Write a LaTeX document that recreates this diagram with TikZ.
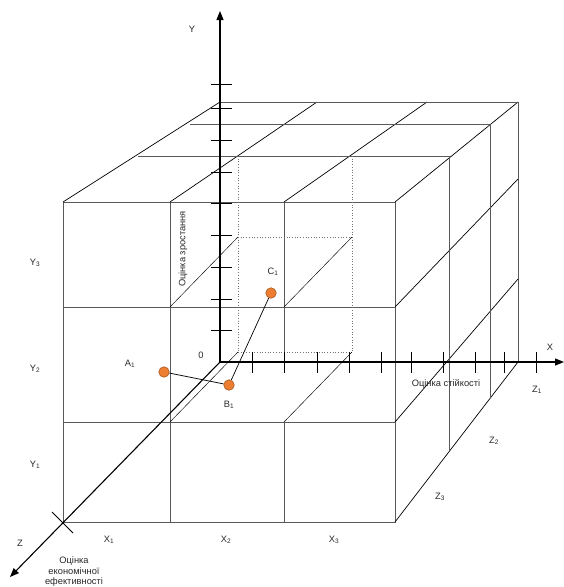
\documentclass[tikz,border=0pt]{standalone}
\usepackage{fontspec}
\setmainfont{Liberation Sans}
\usetikzlibrary{arrows.meta}
\definecolor{dotor}{RGB}{237,125,49}
\definecolor{labc}{RGB}{40,40,40}
\begin{document}
\begin{tikzpicture}[x=1pt,y=-1pt,
 box/.style={draw=black!65, line width=0.8pt},
 dia/.style={draw=black, line width=0.7pt},
 thinl/.style={draw=black, line width=0.45pt},
 dots/.style={draw=black!55, line width=0.7pt, dotted},
 axis/.style={draw=black, line width=1.1pt},
 tickl/.style={draw=black, line width=0.9pt},
 tip/.style={-{Triangle[length=9pt,width=7pt]}},
 lbl/.style={font=\fontsize{9.3}{10.5}\selectfont, text=labc, inner sep=0pt},
 ptn/.style={circle, fill=dotor, draw=dotor!70!black, line width=0.6pt, minimum size=10.5pt, inner sep=0pt},
]
\useasboundingbox (0,0) rectangle (564,587);

% ---------- front face ----------
\draw[box] (63,202) rectangle (395,522);
\draw[box] (63,307) -- (395,307);
\draw[box] (63,422) -- (395,422);
\draw[box] (170,202) -- (170,522);
\draw[box] (284,202) -- (284,373);
\draw[box] (284,422) -- (284,522);

% ---------- top face ----------
\draw[dia] (63,202) -- (220,102);
\draw[dia] (170,202) -- (317,102);
\draw[dia] (284,202) -- (427,102);
\draw[dia] (395,202) -- (518,102);
\draw[box] (220,102) -- (518,102);
\draw[box] (190,124) -- (490,124);
\draw[box] (138,156) -- (449,156);

% ---------- right face ----------
\draw[box] (518,102) -- (518,362);
\draw[dia] (395,522) -- (518,362);
\draw[dia] (395,307) -- (518,179);
\draw[dia] (395,422) -- (518,279);
\draw[box] (449,156) -- (449,451);
\draw[box] (490,124) -- (490,398);

% ---------- inner cell ----------
\draw[dots] (238,156) -- (238,352);
\draw[dots] (352,156) -- (352,352);
\draw[dots] (238,237) -- (352,237);
\draw[dots] (238,352) -- (352,352);
\draw[thinl] (170,307) -- (238,237);
\draw[thinl] (284,307) -- (352,237);
\draw[thinl] (284,422) -- (352,352);
\draw[thinl] (170,422) -- (238,352);

% ---------- axes ----------
\coordinate (O) at (220,362);
\coordinate (Ytip) at (220,11);
\coordinate (Xtip) at (564,362);
\coordinate (Ztip) at (10,577);
\draw[axis,tip] (O) -- (Ytip);
\draw[axis,tip] (O) -- (Xtip);
\draw[axis,tip] (O) -- (Ztip);

\foreach \yy in {84,108,140,172,203,235,267,299,330}
  \draw[tickl] (211,\yy) -- (232,\yy);
\foreach \xx in {252,284,317,349,381,411,443,475,504,536}
  \draw[tickl] (\xx,352) -- (\xx,373);
\draw[tickl] (52,512) -- (73,533);

% ---------- axis labels ----------
\node[lbl] (ly) at (192,29) {Y};
\node[lbl] (lx) at (550,347) {X};
\node[lbl] (lz) at (20,543) {Z};
\node[lbl] (l0) at (201,355) {0};
\node[lbl, rotate=90] (lgrow) at (183,249) {Оцінка зростання};
\node[lbl] (lstab) at (446,384) {Оцінка стійкості};
\node[lbl, align=center] (leco) at (74,572) {Оцінка\\економічної\\ефективності};

\node[lbl] (y3) at (35,263) {Y\textsubscript{3}};
\node[lbl] (y2) at (35,369) {Y\textsubscript{2}};
\node[lbl] (y1) at (35,465) {Y\textsubscript{1}};
\node[lbl] (x1) at (109,540) {X\textsubscript{1}};
\node[lbl] (x2) at (226,540) {X\textsubscript{2}};
\node[lbl] (x3) at (334,540) {X\textsubscript{3}};
\node[lbl] (z1) at (537,390) {Z\textsubscript{1}};
\node[lbl] (z2) at (494,441) {Z\textsubscript{2}};
\node[lbl] (z3) at (440,497) {Z\textsubscript{3}};

% ---------- points ----------
\node[ptn] (A1) at (164,372) {};
\node[ptn] (B1) at (229,385) {};
\node[ptn] (C1) at (271,293) {};
\draw[dia] (A1) -- (B1) -- (C1);
\node[lbl] (la) at (130,364) {A\textsubscript{1}};
\node[lbl] (lb) at (229,405) {B\textsubscript{1}};
\node[lbl] (lc) at (273,272) {C\textsubscript{1}};
\end{tikzpicture}
\end{document}
